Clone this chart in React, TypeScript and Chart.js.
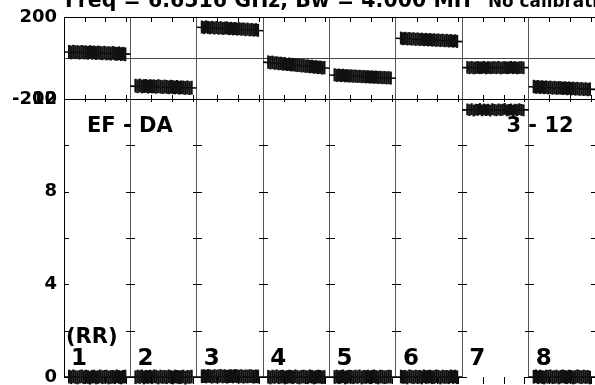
import React, { useEffect, useRef } from 'react';
import { Chart, registerables } from 'chart.js';

Chart.register(...registerables);

const TITLE_MAIN = 'Freq = 6.6516 GHz, Bw = 4.000 MH';
const TITLE_NOTE = 'No calibrati';
const COLUMN_LABELS = ['1', '2', '3', '4', '5', '6', '7', '8'];
const PANEL_LABEL_LEFT = 'EF - DA';
const PANEL_LABEL_RIGHT = '3 - 12';
const UNIT_LABEL = '(RR)';

const COLUMN_SPAN = 32;
const SAMPLE_OFFSETS = [2.5, 3.5, 4.5, 5.5, 6.5, 7.5, 8.5, 9.5, 10.5, 11.5, 12.5, 13.5, 14.5, 15.5, 16.5, 17.5, 18.5, 19.5, 20.5, 21.5, 22.5, 23.5, 24.5, 25.5, 26.5, 27.5, 28.5, 29.5];
const MINOR_X_TICKS = [10, 20, 30];
const TOP_RANGE = [-200, 200];
const TOP_TICKS = [-200, 0, 200];
const BOTTOM_RANGE = [0, 12];
const BOTTOM_TICKS = [0, 4, 8, 12];
const BOTTOM_MINOR = [0, 2, 4, 6, 8, 10];

// top panel (-200..200)
const TOP_FIT_START = [29, -137, 150, -20, -83, 96, -47, -140];
const TOP_FIT_END = [19, -146, 133, -50, -99, 80, -47, -153];
const TOP_ERR = [32, 32, 30, 31, 30, 30, 29, 31];
const TOP_C1 = [30, 27, 31, 28, 29, 26, 30, 27, 28, 25, 29, 26, 27, 24, 27, 25, 23, 26, 22, 24, 21, 25, 22, 20, 23, 19, 21, 18];
const TOP_C2 = [-135, -138, -134, -139, -137, -136, -140, -137, -139, -138, -141, -137, -140, -142, -139, -141, -143, -140, -142, -144, -141, -145, -143, -144, -146, -143, -147, -145];
const TOP_C3 = [151, 148, 152, 149, 147, 150, 146, 149, 145, 148, 144, 146, 147, 143, 145, 142, 144, 141, 143, 140, 142, 138, 141, 137, 139, 136, 138, 135];
const TOP_C4 = [-20, -23, -21, -25, -24, -27, -26, -29, -28, -31, -30, -33, -32, -34, -36, -35, -38, -37, -40, -39, -42, -41, -44, -43, -46, -45, -48, -47];
const TOP_C5 = [-82, -85, -83, -86, -84, -87, -86, -88, -87, -89, -88, -90, -89, -91, -90, -92, -91, -93, -92, -94, -93, -95, -94, -96, -95, -97, -96, -98];
const TOP_C6 = [97, 94, 96, 93, 95, 92, 94, 91, 93, 90, 92, 89, 91, 88, 90, 87, 89, 86, 88, 85, 87, 84, 86, 83, 85, 82, 84, 81];
const TOP_C7 = [-46, -48, -45, -49, -47, -46, -48, -47, -45, -49, -46, -48, -47, -46, -48, -45, -49, -47, -46, -48, -47, -45, -48, -46, -49, -47, -46, -48];
const TOP_C8 = [-139, -142, -140, -143, -141, -144, -142, -145, -143, -146, -144, -147, -145, -146, -148, -146, -149, -147, -150, -148, -151, -149, -152, -150, -153, -151, -154, -152];

// bottom panel (0..12)
const BOT_FIT = [0, 0, 0, 0, 0, 0, 11.53, 0];
const BOT_ERR = [0.28, 0.28, 0.28, 0.28, 0.28, 0.28, 0.24, 0.28];
const BOT_C1 = [0.02, -0.01, 0.03, 0.0, -0.02, 0.01, 0.03, -0.01, 0.02, 0.0, -0.03, 0.01, 0.02, -0.02, 0.0, 0.03, -0.01, 0.01, 0.02, -0.02, 0.0, 0.01, -0.01, 0.03, 0.0, -0.02, 0.01, 0.02];
const BOT_C2 = [-0.01, 0.02, 0.0, 0.03, -0.02, 0.01, 0.0, 0.02, -0.01, 0.03, 0.01, -0.02, 0.02, 0.0, 0.01, -0.01, 0.03, 0.0, -0.02, 0.02, 0.01, -0.01, 0.0, 0.02, -0.03, 0.01, 0.0, 0.02];
const BOT_C3 = [0.03, 0.04, 0.02, 0.05, 0.03, 0.01, 0.04, 0.02, 0.03, 0.05, 0.02, 0.04, 0.01, 0.03, 0.04, 0.02, 0.05, 0.03, 0.02, 0.04, 0.01, 0.03, 0.02, 0.04, 0.03, 0.01, 0.03, 0.02];
const BOT_C4 = [0.01, -0.02, 0.02, 0.0, 0.03, -0.01, 0.01, 0.02, -0.02, 0.0, 0.02, 0.01, -0.01, 0.03, 0.0, -0.02, 0.01, 0.02, 0.0, -0.01, 0.03, 0.01, -0.02, 0.0, 0.02, 0.01, -0.01, 0.0];
const BOT_C5 = [0.0, 0.02, -0.01, 0.01, 0.03, -0.02, 0.0, 0.02, 0.01, -0.01, 0.02, 0.0, 0.03, -0.02, 0.01, 0.0, 0.02, -0.01, 0.01, 0.03, 0.0, -0.02, 0.02, 0.01, -0.01, 0.0, 0.02, 0.01];
const BOT_C6 = [0.02, 0.0, 0.01, -0.02, 0.03, 0.01, -0.01, 0.02, 0.0, 0.01, -0.02, 0.03, 0.0, 0.01, 0.02, -0.01, 0.0, 0.03, 0.01, -0.02, 0.02, 0.0, 0.01, -0.01, 0.03, 0.0, 0.02, -0.01];
const BOT_C7 = [11.55, 11.52, 11.56, 11.5, 11.54, 11.53, 11.57, 11.51, 11.55, 11.52, 11.54, 11.5, 11.56, 11.53, 11.51, 11.55, 11.52, 11.54, 11.57, 11.51, 11.53, 11.55, 11.5, 11.54, 11.52, 11.56, 11.53, 11.51];
const BOT_C8 = [0.01, 0.03, -0.01, 0.02, 0.0, -0.02, 0.02, 0.01, 0.03, -0.01, 0.0, 0.02, -0.02, 0.01, 0.03, 0.0, -0.01, 0.02, 0.01, -0.02, 0.0, 0.03, 0.01, -0.01, 0.02, 0.0, 0.01, -0.02];

const TOP_SERIES = [TOP_C1, TOP_C2, TOP_C3, TOP_C4, TOP_C5, TOP_C6, TOP_C7, TOP_C8];
const BOT_SERIES = [BOT_C1, BOT_C2, BOT_C3, BOT_C4, BOT_C5, BOT_C6, BOT_C7, BOT_C8];

const FONT_FAMILY = '"DejaVu Sans", sans-serif';

function fitText(ctx: CanvasRenderingContext2D, text: string, x: number, y: number, width: number) {
  const w = ctx.measureText(text).width;
  ctx.save();
  ctx.translate(x, y);
  ctx.scale(width / w, 1);
  ctx.fillText(text, 0, 0);
  ctx.restore();
}

const overlayPlugin = {
  id: 'overlay',
  afterDraw(chart: any) {
    const { ctx, scales } = chart;
    const xs = scales.x;
    const yt = scales.yTop;
    const yb = scales.yBot;
    ctx.save();
    ctx.strokeStyle = '#000';
    ctx.lineWidth = 1;
    ctx.beginPath();
    const nCols = COLUMN_LABELS.length;
    for (let k = 0; k < nCols; k++) {
      for (const m of MINOR_X_TICKS) {
        const px = Math.round(xs.getPixelForValue(k * COLUMN_SPAN + m)) + 0.5;
        ctx.moveTo(px, yt.top);
        ctx.lineTo(px, yt.top + 5);
        ctx.moveTo(px, yt.bottom - 4);
        ctx.lineTo(px, yt.bottom + 3);
        ctx.moveTo(px, yb.bottom);
        ctx.lineTo(px, yb.bottom + 7);
      }
    }
    for (let k = 0; k <= nCols; k++) {
      const px = Math.round(xs.getPixelForValue(k * COLUMN_SPAN));
      for (const v of BOTTOM_MINOR) {
        const py = Math.round(yb.getPixelForValue(v)) + 0.5;
        ctx.moveTo(k === 0 ? px : px - 4, py);
        ctx.lineTo(px + 5, py);
      }
    }
    ctx.stroke();

    ctx.fillStyle = '#000';
    ctx.textBaseline = 'alphabetic';
    ctx.textAlign = 'left';
    const left = chart.chartArea.left;
    ctx.font = `bold 20.5px ${FONT_FAMILY}`;
    fitText(ctx, TITLE_MAIN, left + 1, 7, 406);
    ctx.font = `bold 18.5px ${FONT_FAMILY}`;
    fitText(ctx, TITLE_NOTE, left + 424, 7, 110);

    ctx.font = `bold 21px ${FONT_FAMILY}`;
    const labelY = yb.getPixelForValue(BOTTOM_RANGE[1]) + 33;
    ctx.fillText(PANEL_LABEL_LEFT, xs.getPixelForValue(0) + 23, labelY);
    ctx.textAlign = 'right';
    ctx.fillText(PANEL_LABEL_RIGHT, xs.getPixelForValue(7 * COLUMN_SPAN) + 45, labelY);
    ctx.textAlign = 'left';
    ctx.fillText(UNIT_LABEL, xs.getPixelForValue(0) + 2, yb.getPixelForValue(0) - 34);

    ctx.font = `bold 23px ${FONT_FAMILY}`;
    COLUMN_LABELS.forEach((lab, k) => {
      ctx.fillText(lab, xs.getPixelForValue(k * COLUMN_SPAN) + 7, yb.getPixelForValue(0) - 12);
    });
    ctx.restore();
  },
};

export default function App() {
  const canvasRef = useRef<HTMLCanvasElement | null>(null);

  useEffect(() => {
    const canvas = canvasRef.current;
    if (!canvas) return;
    const datasets: any[] = [];
    const bandCommon = {
      type: 'bar',
      backgroundColor: '#111',
      borderWidth: 0,
      barThickness: 1.7,
      grouped: false,
      clip: false,
    };
    const lineCommon = {
      type: 'line',
      borderColor: '#000',
      borderWidth: 1.6,
      pointRadius: 0,
      fill: false,
      clip: false,
    };
    COLUMN_LABELS.forEach((_, k) => {
      const x0 = k * COLUMN_SPAN;
      datasets.push({
        ...bandCommon,
        label: `top-${k + 1}`,
        yAxisID: 'yTop',
        data: SAMPLE_OFFSETS.map((o, i) => ({ x: x0 + o, y: [TOP_SERIES[k][i] - TOP_ERR[k], TOP_SERIES[k][i] + TOP_ERR[k]] })),
      });
      datasets.push({
        ...lineCommon,
        label: `top-fit-${k + 1}`,
        yAxisID: 'yTop',
        data: [{ x: x0, y: TOP_FIT_START[k] }, { x: x0 + COLUMN_SPAN, y: TOP_FIT_END[k] }],
      });
      datasets.push({
        ...bandCommon,
        label: `bot-${k + 1}`,
        yAxisID: 'yBot',
        data: SAMPLE_OFFSETS.map((o, i) => ({ x: x0 + o, y: [BOT_SERIES[k][i] - BOT_ERR[k], BOT_SERIES[k][i] + BOT_ERR[k]] })),
      });
      datasets.push({
        ...lineCommon,
        label: `bot-fit-${k + 1}`,
        yAxisID: 'yBot',
        data: [{ x: x0, y: BOT_FIT[k] }, { x: x0 + COLUMN_SPAN, y: BOT_FIT[k] }],
      });
    });

    const tickFont = { family: FONT_FAMILY, size: 18, weight: 'bold' as const };
    const fitY = (s: any) => {
      s.width = 64;
      s.paddingTop = 0;
      s.paddingBottom = 0;
    };

    const chart = new Chart(canvas, {
      type: 'bar',
      data: { datasets },
      options: {
        responsive: false,
        animation: false,
        devicePixelRatio: 1,
        layout: { padding: { left: 0, right: -1, top: 17, bottom: 8 } },
        plugins: { legend: { display: false }, tooltip: { enabled: false }, title: { display: false } },
        scales: {
          x: {
            type: 'linear',
            min: 0,
            max: COLUMN_LABELS.length * COLUMN_SPAN,
            offset: false,
            ticks: { display: false, stepSize: COLUMN_SPAN },
            grid: {
              offset: false,
              drawTicks: false,
              color: (c: any) => (c.tick && c.tick.value === 0 ? '#000' : '#555'),
              lineWidth: 1,
            },
            border: { display: false },
            afterFit: (s: any) => {
              s.height = 0;
              s.paddingLeft = 0;
              s.paddingRight = 0;
            },
          },
          yBot: {
            type: 'linear',
            position: 'left',
            stack: 'panels',
            stackWeight: 278,
            min: BOTTOM_RANGE[0],
            max: BOTTOM_RANGE[1],
            afterBuildTicks: (s: any) => { s.ticks = BOTTOM_TICKS.map((v) => ({ value: v })); },
            ticks: { font: tickFont, color: '#000', padding: 7, autoSkip: false },
            grid: { display: false, drawTicks: false },
            border: { display: true, color: '#000' },
            afterFit: fitY,
          },
          yTop: {
            type: 'linear',
            position: 'left',
            stack: 'panels',
            stackWeight: 82,
            min: TOP_RANGE[0],
            max: TOP_RANGE[1],
            afterBuildTicks: (s: any) => { s.ticks = TOP_TICKS.map((v) => ({ value: v })); },
            ticks: {
              font: tickFont,
              color: '#000',
              padding: 7,
              autoSkip: false,
              callback: (v: any) => (v === 0 ? '' : String(v)),
            },
            grid: {
              drawTicks: false,
              color: (c: any) => (c.tick && c.tick.value === 0 ? '#444' : '#000'),
              lineWidth: 1,
            },
            border: { display: true, color: '#000' },
            afterFit: fitY,
          },
        } as any,
      },
      plugins: [overlayPlugin],
    } as any);
    return () => chart.destroy();
  }, []);

  return (
    <div style={{ position: 'fixed', left: 0, top: 0, width: 595, height: 385, background: '#fff' }}>
      <canvas ref={canvasRef} width={595} height={385} style={{ display: 'block', width: 595, height: 385 }} />
    </div>
  );
}
